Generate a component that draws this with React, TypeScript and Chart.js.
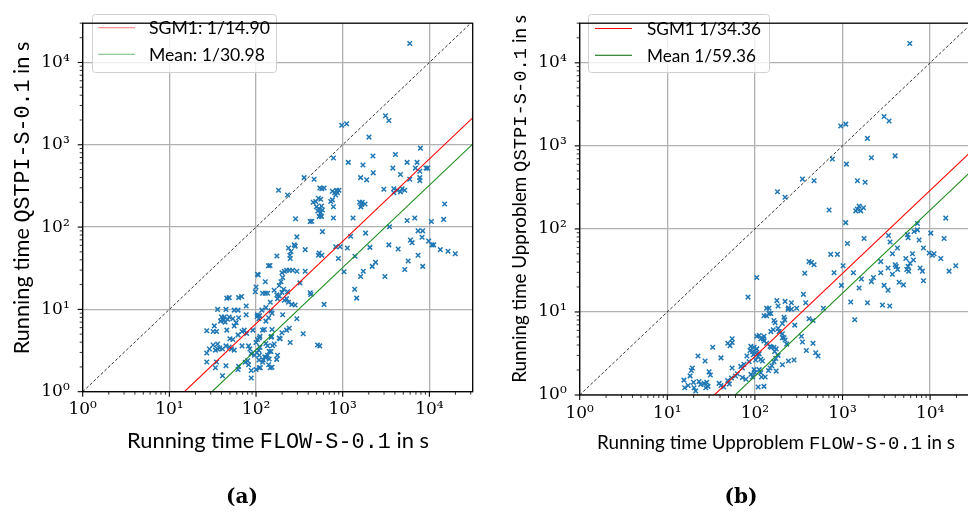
import React, { useEffect, useRef } from 'react';
import { Chart, registerables } from 'chart.js';

Chart.register(...registerables);

// ---------- data ----------
const TICK_VALUES = [1, 10, 100, 1000, 10000];
const TICK_LABELS = ['10⁰', '10¹', '10²', '10³', '10⁴'];
const AXIS_MIN = 1;
const X_MAX = 31623;
const Y_MAX = 30000;

const A_SGM1_RATIO = 14.9;
const A_MEAN_RATIO = 30.98;
const B_SGM1_RATIO = 34.36;
const B_MEAN_RATIO = 59.36;

const A_LEGEND = ['SGM1: 1/14.90', 'Mean: 1/30.98'];
const B_LEGEND = ['SGM1 1/34.36', 'Mean 1/59.36'];

const A_POINTS: [number, number][] = [
  [5940, 17000], [3120, 2250], [3410, 1970], [975, 1725], [1110, 1800], [2010, 1240],
  [7880, 910], [4065, 762], [2233, 730], [781, 692], [1160, 611], [1713, 569],
  [5540, 611], [7210, 611], [6900, 521], [9160, 521], [9550, 521], [3790, 521],
  [4640, 436], [2250, 456], [1610, 399], [1890, 375], [7760, 476], [7760, 399], [7760, 365],
  [5940, 382], [2985, 288], [3890, 292], [4250, 280], [4850, 292], [5200, 280], [4640, 268], [3890, 261],
  [5540, 120], [6780, 129], [10550, 117], [14600, 124], [15000, 191], [3470, 101], [7410, 90], [8380, 90],
  [6050, 69.5], [6320, 64.7], [8240, 75.3], [9820, 67.6], [10730, 60.8], [11200, 60.8], [13370, 53.2],
  [16400, 50.9], [19900, 47.5], [3410, 60.8], [4365, 54.2], [7410, 45.4], [5690, 38.7], [8380, 33.3],
  [5200, 30.5], [3070, 25.1], [2394, 37.3], [2193, 33.3], [2061, 56.7], [1837, 84.5], [1727, 29.1],
  [1610, 25.1], [1374, 17.6], [1449, 13.7], [1387, 44.2], [1132, 55.7], [1236, 77.3], [1316, 129],
  [932, 57.7], [831, 57.7], [892, 41.6], [1036, 28.6],
  [1652, 188], [1620, 176], [1680, 200], [1810, 191], [1570, 200],
  [830, 245], [870, 261], [905, 280], [850, 280], [810, 261], [760, 272],
  [525, 224], [574, 292], [544, 298],
  [456, 200], [489, 205], [558, 218], [498, 177], [535, 167], [569, 180], [516, 157], [558, 150],
  [584, 161], [440, 118], [421, 117], [535, 135], [569, 135], [781, 129], [781, 177], [610, 298],
  [728, 205], [761, 214],
  [359, 399], [468, 382], [182, 280], [231, 245], [286, 126], [584, 88],
  [296, 76], [276, 60.8], [283, 58.7], [237, 55.7], [253, 50.5], [246, 45.4], [248, 41.6],
  [369, 53.2], [535, 48.3], [574, 45.4], [525, 45.4], [174, 44.6], [145, 34.2],
  [199, 27.9], [212, 29.1], [225, 29.9], [242, 29.9], [264, 29.9], [296, 29.1], [369, 29.1],
  [321, 21], [422, 15.9], [429, 15.2], [610, 11.5],
  [203, 24.4], [194, 21.7], [185, 19.5], [208, 17.6], [199, 16.1], [174, 15], [162, 17.1],
  [212, 12.9], [225, 13.5], [177, 13.5], [128, 15.7], [119, 15.7], [136, 15.7],
  [100, 18.7], [98, 16.4], [104, 26.7], [128, 21.7], [139, 33.9], [106, 26.2],
  [146, 12.2], [149, 9.6], [185, 14.6], [231, 16.4], [237, 12.2], [259, 11.5], [283, 11.3],
  [203, 8.6], [296, 7.7], [117, 9.8], [104, 8.6], [103, 8.2], [130, 10.5], [153, 9],
  [46, 13.7], [49, 13.9], [63, 13.9], [68, 14.3], [36, 10], [45, 10], [56, 9.8], [62, 9.8],
  [77, 11], [77, 8.6], [40, 8.1], [43, 8.1], [42, 7.4], [44, 7.0], [47, 7.6], [39, 7.2],
  [49, 8.1], [54, 7.7], [59, 6.9], [63, 7.9], [56, 6.3], [62, 4.9], [46, 5.6], [33, 6.3],
  [27, 5.5], [32, 5.4], [35, 5.4], [73, 5.6], [69, 5.4], [92, 5.6], [78, 5.1],
  [54, 4.3], [50, 4.4], [69, 3.6], [82, 3.6], [88, 2.9], [102, 3.0], [85, 3.3],
  [32, 3.7], [36, 3.8], [29, 3.3], [36, 3.3], [41, 3.3], [34, 3.2], [38, 3.4],
  [45, 3.6], [49, 3.5], [52, 3.3], [56, 3.2], [27, 2.95], [27, 2.3], [35, 2.3], [34, 1.95], [45, 2.07],
  [62, 1.86], [63, 2.03], [75, 2.28], [80, 2.37], [82, 2.13], [41, 1.56], [88, 1.81], [100, 1.86], [88, 1.47],
  [100, 3.96], [104, 4.3], [109, 4.5], [96, 2.77], [109, 2.77], [108, 2.43], [108, 3.17], [111, 3.46],
  [109, 1.95], [112, 1.95], [119, 2.28], [121, 2.43], [126, 2.65], [130, 2.6], [136, 2.77], [142, 2.5],
  [142, 3.08], [149, 3.08], [136, 3.62], [130, 3.85], [155, 3.62], [162, 3.8],
  [146, 1.95], [153, 1.98], [140, 2.13], [173, 2.47], [177, 2.77], [149, 4.6], [151, 4.7],
  [111, 4.7], [119, 5.6], [125, 5.7], [130, 7.2], [140, 7.9], [108, 7.7], [110, 8.4], [153, 5.7],
  [185, 4.5], [190, 4.4], [199, 5.2], [225, 5.6], [242, 5.9], [248, 3.96], [350, 5.07], [512, 3.7], [544, 3.6],
];

const B_POINTS: [number, number][] = [
  [5860, 17100], [2985, 2260], [3400, 1995], [955, 1734], [1089, 1828], [1927, 1230], [3985, 758],
  [2138, 719], [767, 694], [1109, 603], [349, 398], [474, 381], [1480, 381], [1811, 365],
  [181, 280], [221, 241], [703, 169], [1417, 165], [1548, 188], [1616, 165], [1480, 173], [1734, 180],
  [1089, 119], [1138, 66.7], [1763, 76.8], [734, 49.4], [875, 49.4], [1016, 36], [801, 29.7], [972, 20.9],
  [1333, 29.7], [1242, 13.2], [1380, 8.06], [1548, 19.4], [1644, 24.9], [1927, 12.9], [2138, 23.2],
  [2254, 26], [2733, 29.7], [2733, 40.4], [2857, 12.1], [2985, 20.9], [3313, 33.9], [3313, 18.3],
  [3460, 11.8], [3350, 83.2], [3490, 69.7], [3715, 50.3], [3715, 28.4], [4000, 37], [4260, 32.4],
  [4100, 35.4], [4236, 59], [4430, 22.8], [4960, 21.2], [5280, 44], [5420, 32.4], [5610, 35.4],
  [5910, 38.6], [5510, 85.3], [5610, 78.1], [6280, 50.3], [6450, 42.2], [5700, 31], [6560, 93],
  [7170, 97.4], [7170, 116], [7490, 73.5], [7690, 33.9], [8170, 31], [8400, 23.8], [8400, 59],
  [10180, 89], [9750, 51.2], [11100, 50.3], [10640, 48.2], [13240, 44], [14450, 76.8], [15100, 135],
  [16480, 31], [19630, 36],
  [371, 29.2], [358, 16.3], [380, 12.9], [415, 40.4], [442, 39.3], [474, 37], [605, 11.07],
  [415, 8.3], [461, 7.9], [340, 5.1], [349, 4.35], [387, 3.43], [461, 4.2], [495, 3.23], [526, 2.95],
  [105, 26], [83.5, 15.1],
  [178, 13.7], [184, 11.8], [136, 11.07], [145, 11.07], [152, 9.6], [136, 9.0], [145, 9.6], [127, 9.0],
  [221, 13.4], [261, 12.9], [239, 10.8], [261, 10.8], [241, 11.2], [300, 11.1],
  [215, 8.65], [206, 7.25], [219, 8.06], [165, 7.9], [170, 7.4], [184, 6.35], [189, 5.82], [206, 5.47],
  [152, 5.8], [162, 6.1], [285, 6.94], [127, 5.1], [125, 4.75], [105, 5.1], [112, 5.2], [117, 4.75],
  [127, 4.47], [136, 4.2], [149, 3.85], [154, 3.75], [206, 4.88], [215, 4.88], [221, 4.6], [231, 4.1],
  [165, 3.75], [175, 3.59], [168, 3.34], [184, 3.0], [173, 2.75], [165, 2.52], [206, 2.31], [149, 2.11],
  [143, 1.97], [131, 1.65], [127, 1.27], [109, 1.25], [112, 2.02], [117, 1.85], [119, 1.65],
  [90, 3.85], [98, 3.75], [105, 3.59], [88, 3.43], [94, 3.34], [96, 3.06], [108, 2.88], [102, 3.23],
  [112, 3.13], [102, 2.64], [117, 2.7], [122, 2.57], [86, 2.52], [81, 2.95], [75, 2.35], [72, 2.11],
  [69, 2.21], [63, 1.8], [72, 1.62], [79, 1.55], [98, 2.02], [100, 1.85], [90, 1.77], [94, 1.65],
  [55, 2.11], [60, 1.69], [54, 1.6], [52, 3.92], [55, 4.28], [55, 4.75], [49, 4.2], [41, 2.8],
  [39, 1.38], [41, 1.3], [44, 1.25], [49, 1.49], [51, 1.36], [33, 3.75], [22.4, 2.95], [27, 2.57],
  [30, 1.9], [31, 1.74], [18.8, 1.97], [19.3, 2.11], [18.2, 1.7], [15.5, 1.51], [15.8, 1.22], [17.3, 1.3],
  [19.9, 1.42], [20.2, 1.22], [21.1, 1.12], [23, 1.45], [24, 1.34], [26.3, 1.38], [28.2, 1.42],
  [27.5, 1.22], [29.2, 1.27], [241, 2.57], [280, 2.64], [156, 2.25], [175, 1.94],
];

// ---------- drawing helpers ----------
type Seg = { t: string; mono?: boolean };
const SANS = 'Lato';
const MONO = '"Liberation Mono"';

function segFont(s: Seg, size: number) {
  return `${size}px ${s.mono ? MONO : SANS}`;
}
function measureSegs(ctx: CanvasRenderingContext2D, segs: Seg[], size: number) {
  let w = 0;
  for (const s of segs) {
    ctx.font = segFont(s, size);
    w += ctx.measureText(s.t).width;
  }
  return w;
}
function drawSegs(
  ctx: CanvasRenderingContext2D, segs: Seg[], target: number,
  cx: number, cy: number, rotate: boolean
) {
  const base = 20;
  const size = (base * target) / measureSegs(ctx, segs, base);
  const total = measureSegs(ctx, segs, size);
  ctx.save();
  ctx.translate(cx, cy);
  if (rotate) ctx.rotate(-Math.PI / 2);
  ctx.fillStyle = '#000';
  ctx.textBaseline = 'alphabetic';
  ctx.textAlign = 'left';
  let x = -total / 2;
  for (const s of segs) {
    ctx.font = segFont(s, size);
    ctx.fillText(s.t, x, 0);
    x += ctx.measureText(s.t).width;
  }
  ctx.restore();
}

interface PanelProps {
  left: number;
  width: number;
  area: { l: number; t: number; r: number; b: number };
  points: [number, number][];
  sgm1: number;
  mean: number;
  legend: string[];
  legendColors: string[];
  lineColors: string[];
  box: { x: number; y: number; w: number; h: number; l0: number; l1: number; tx: number; rows: number[]; tw: number };
  xTitle: Seg[];
  yTitle: Seg[];
  xT: { cx: number; base: number; w: number };
  yT: { cy: number; base: number; w: number };
  caption: string;
  capX: number;
}

const H = 518;
const Y_AXIS_W = 50;
const X_AXIS_H = 40;

function Panel(p: PanelProps) {
  const ref = useRef<HTMLCanvasElement | null>(null);
  useEffect(() => {
    const canvas = ref.current!;
    const isDecade = (v: number) => TICK_VALUES.includes(v);

    const decor = {
      id: 'decor',
      afterDraw(chart: any) {
        const ctx: CanvasRenderingContext2D = chart.ctx;
        const ca = chart.chartArea;
        const xs = chart.scales.x;
        const ys = chart.scales.y;
        // legend
        const b = p.box;
        ctx.save();
        ctx.beginPath();
        (ctx as any).roundRect(b.x + 0.5, b.y + 0.5, b.w, b.h, 3);
        ctx.fillStyle = 'rgba(255,255,255,0.8)';
        ctx.fill();
        ctx.strokeStyle = '#d0d0d0';
        ctx.lineWidth = 1;
        ctx.stroke();
        const base = 20;
        ctx.font = `${base}px ${SANS}`;
        const fs = (base * b.tw) / ctx.measureText(p.legend[0]).width;
        p.legend.forEach((txt, i) => {
          const y = b.rows[i];
          ctx.strokeStyle = p.legendColors[i];
          ctx.lineWidth = 1.1;
          ctx.beginPath();
          ctx.moveTo(b.l0, y);
          ctx.lineTo(b.l1, y);
          ctx.stroke();
          ctx.fillStyle = '#000';
          ctx.font = `${fs}px ${SANS}`;
          ctx.textBaseline = 'middle';
          ctx.textAlign = 'left';
          ctx.fillText(txt, b.tx, y + 1);
        });
        ctx.restore();

        // ticks
        ctx.save();
        ctx.strokeStyle = '#000';
        for (const d of TICK_VALUES) {
          for (let m = 1; m <= 9; m++) {
            const v = m * d;
            const major = m === 1;
            ctx.lineWidth = major ? 1.1 : 0.8;
            const len = major ? 5 : 3;
            if (v >= AXIS_MIN && v <= X_MAX) {
              const px = xs.getPixelForValue(v);
              ctx.beginPath();
              ctx.moveTo(px, ca.bottom);
              ctx.lineTo(px, ca.bottom + len);
              ctx.stroke();
            }
            if (v >= AXIS_MIN && v <= Y_MAX) {
              const py = ys.getPixelForValue(v);
              ctx.beginPath();
              ctx.moveTo(ca.left, py);
              ctx.lineTo(ca.left - len, py);
              ctx.stroke();
            }
          }
        }
        // frame
        ctx.lineWidth = 1.3;
        ctx.strokeRect(ca.left, ca.top, ca.right - ca.left, ca.bottom - ca.top);
        ctx.restore();

        // titles
        drawSegs(ctx, p.xTitle, p.xT.w, p.xT.cx, p.xT.base, false);
        drawSegs(ctx, p.yTitle, p.yT.w, p.yT.base, p.yT.cy, true);

        // caption
        ctx.save();
        ctx.fillStyle = '#000';
        ctx.font = 'bold 20px "DejaVu Serif"';
        ctx.textAlign = 'center';
        ctx.textBaseline = 'alphabetic';
        ctx.fillText(p.caption, p.capX, 503);
        ctx.restore();
      },
    };

    const axisCommon = (max: number) => ({
      type: 'logarithmic' as const,
      min: AXIS_MIN,
      max,
      afterBuildTicks: (s: any) => {
        s.ticks = TICK_VALUES.map((v) => ({ value: v }));
      },
      grid: {
        color: (c: any) => (c.tick && isDecade(c.tick.value) ? '#b0b0b0' : 'rgba(0,0,0,0)'),
        lineWidth: 1.3,
        drawTicks: false,
      },
      border: { display: false },
    });

    const tickFont = { family: '"DejaVu Serif"', size: 17 };
    const labelFor = (v: any) => {
      const i = TICK_VALUES.indexOf(Number(v));
      return i >= 0 ? TICK_LABELS[i] : '';
    };

    const chart = new Chart(canvas, {
      type: 'scatter',
      data: {
        datasets: [
          {
            label: 'instances',
            data: p.points.map(([x, y]) => ({ x, y })),
            pointStyle: 'crossRot',
            pointRadius: 3.2,
            pointHoverRadius: 3.2,
            pointBorderWidth: 1.5,
            borderColor: '#1f77b4',
            backgroundColor: '#1f77b4',
            showLine: false,
            order: 4,
          } as any,
          {
            type: 'line',
            label: p.legend[0],
            data: [
              { x: AXIS_MIN, y: AXIS_MIN / p.sgm1 },
              { x: X_MAX, y: X_MAX / p.sgm1 },
            ],
            borderColor: p.lineColors[0],
            borderWidth: 1.1,
            pointRadius: 0,
            fill: false,
            order: 2,
          },
          {
            type: 'line',
            label: p.legend[1],
            data: [
              { x: AXIS_MIN, y: AXIS_MIN / p.mean },
              { x: X_MAX, y: X_MAX / p.mean },
            ],
            borderColor: p.lineColors[1],
            borderWidth: 1.1,
            pointRadius: 0,
            fill: false,
            order: 1,
          },
          {
            type: 'line',
            label: 'y = x',
            data: [
              { x: AXIS_MIN, y: AXIS_MIN },
              { x: X_MAX, y: X_MAX },
            ],
            borderColor: '#000',
            borderWidth: 0.8,
            borderDash: [3, 2],
            pointRadius: 0,
            fill: false,
            order: 3,
          },
        ],
      },
      options: {
        animation: false,
        responsive: false,
        events: [],
        layout: {
          padding: {
            left: p.area.l - Y_AXIS_W,
            top: p.area.t,
            right: p.width - p.area.r,
            bottom: H - p.area.b - X_AXIS_H,
          },
        },
        plugins: { legend: { display: false }, tooltip: { enabled: false }, title: { display: false } },
        scales: {
          x: {
            ...axisCommon(X_MAX),
            position: 'bottom',
            afterFit: (s: any) => {
              s.height = X_AXIS_H;
            },
            ticks: {
              autoSkip: false,
              maxRotation: 0,
              minRotation: 0,
              padding: 8,
              color: '#000',
              font: tickFont,
              callback: labelFor,
            },
          } as any,
          y: {
            ...axisCommon(Y_MAX),
            position: 'left',
            afterFit: (s: any) => {
              s.width = Y_AXIS_W;
            },
            ticks: {
              autoSkip: false,
              padding: 13,
              color: '#000',
              font: tickFont,
              callback: labelFor,
            },
          } as any,
        },
      },
      plugins: [decor],
    });
    return () => chart.destroy();
  }, []);

  return (
    <canvas
      ref={ref}
      width={p.width}
      height={H}
      style={{ position: 'absolute', left: p.left, top: 0, width: p.width, height: H }}
    />
  );
}

export default function App() {
  return (
    <div
      style={{
        position: 'fixed',
        left: 0,
        top: 0,
        width: 968,
        height: 518,
        overflow: 'hidden',
        background: '#fff',
      }}
    >
      <Panel
        left={0}
        width={484}
        area={{ l: 82.7, t: 4.7, r: 472.7, b: 391.7 }}
        points={A_POINTS}
        sgm1={A_SGM1_RATIO}
        mean={A_MEAN_RATIO}
        legend={A_LEGEND}
        legendColors={['rgba(255,0,0,0.55)', 'rgba(0,128,0,0.55)']}
        lineColors={['#ff0000', '#1a8c1a']}
        box={{ x: 92, y: 14, w: 184, h: 58, l0: 98, l1: 135, tx: 149, rows: [27.7, 54.3], tw: 121 }}
        xTitle={[{ t: 'Running time ' }, { t: 'FLOW-S-0.1', mono: true }, { t: ' in s' }]}
        yTitle={[{ t: 'Running time ' }, { t: 'QSTPI-S-0.1', mono: true }, { t: ' in s' }]}
        xT={{ cx: 278, base: 448, w: 302 }}
        yT={{ cy: 198, base: 29, w: 313 }}
        caption="(a)"
        capX={242}
      />
      <Panel
        left={484}
        width={501}
        area={{ l: 95.7, t: 4.7, r: 489.9, b: 395 }}
        points={B_POINTS}
        sgm1={B_SGM1_RATIO}
        mean={B_MEAN_RATIO}
        legend={B_LEGEND}
        legendColors={['#ff0000', '#006400']}
        lineColors={['#ff0000', '#1a8c1a']}
        box={{ x: 104, y: 14, w: 181, h: 58, l0: 111, l1: 148, tx: 163, rows: [28.5, 55.2], tw: 114 }}
        xTitle={[{ t: 'Running time Upproblem ' }, { t: 'FLOW-S-0.1', mono: true }, { t: ' in s' }]}
        yTitle={[{ t: 'Running time Upproblem ' }, { t: 'QSTPI-S-0.1', mono: true }, { t: ' in s' }]}
        xT={{ cx: 292, base: 449, w: 358 }}
        yT={{ cy: 199, base: 42, w: 368 }}
        caption="(b)"
        capX={257}
      />
    </div>
  );
}
